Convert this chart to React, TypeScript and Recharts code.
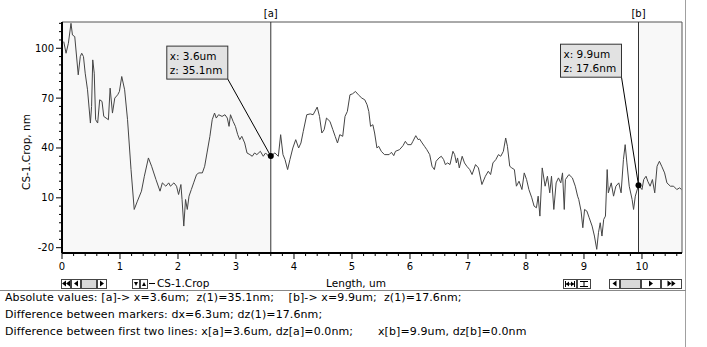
import React from 'react';
import { ComposedChart, Line, XAxis, YAxis, ReferenceArea, ReferenceLine, ReferenceDot } from 'recharts';

// profile: length (um) / height (nm)
const lengthUm = [
  0.03, 0.07, 0.11, 0.155, 0.18, 0.22, 0.28, 0.315, 0.34, 0.37, 0.4, 0.44, 0.49, 0.51, 0.53, 0.556, 0.58, 0.615,
  0.65, 0.69, 0.72, 0.76, 0.8, 0.83, 0.87, 0.91, 0.96, 0.99, 1.03, 1.08, 1.13, 1.19, 1.245, 1.3, 1.37, 1.42,
  1.49, 1.545, 1.62, 1.69, 1.73, 1.79, 1.84, 1.87, 1.93, 1.975, 2.01, 2.05, 2.07, 2.1, 2.13, 2.16, 2.19, 2.23,
  2.27, 2.32, 2.36, 2.42, 2.46, 2.5, 2.55, 2.59, 2.63, 2.66, 2.7, 2.76, 2.81, 2.85, 2.88, 2.905, 2.95, 2.99,
  3.03, 3.065, 3.1, 3.15, 3.19, 3.24, 3.28, 3.32, 3.36, 3.42, 3.47, 3.51, 3.565, 3.6, 3.67, 3.73, 3.77, 3.81,
  3.845, 3.89, 3.93, 3.98, 4.03, 4.08, 4.12, 4.16, 4.22, 4.28, 4.33, 4.4, 4.44, 4.48, 4.52, 4.56, 4.62, 4.67,
  4.71, 4.75, 4.79, 4.84, 4.88, 4.92, 4.965, 5.01, 5.06, 5.11, 5.17, 5.22, 5.26, 5.29, 5.32, 5.36, 5.39, 5.43,
  5.46, 5.505, 5.56, 5.64, 5.68, 5.72, 5.75, 5.82, 5.88, 5.92, 5.96, 6.02, 6.05, 6.1, 6.14, 6.165, 6.21, 6.25,
  6.29, 6.34, 6.38, 6.42, 6.45, 6.5, 6.54, 6.58, 6.61, 6.65, 6.69, 6.74, 6.77, 6.8, 6.82, 6.85, 6.9, 6.94,
  6.98, 7.03, 7.07, 7.13, 7.18, 7.24, 7.3, 7.35, 7.39, 7.43, 7.48, 7.525, 7.565, 7.61, 7.65, 7.68, 7.72, 7.755,
  7.8, 7.835, 7.88, 7.93, 7.97, 8.01, 8.05, 8.1, 8.14, 8.18, 8.21, 8.24, 8.28, 8.33, 8.37, 8.41, 8.44, 8.48,
  8.52, 8.56, 8.6, 8.63, 8.66, 8.68, 8.74, 8.8, 8.85, 8.89, 8.91, 8.95, 8.98, 9.01, 9.05, 9.09, 9.14, 9.18,
  9.22, 9.25, 9.28, 9.31, 9.34, 9.37, 9.4, 9.42, 9.47, 9.51, 9.55, 9.6, 9.64, 9.68, 9.71, 9.74, 9.78, 9.83,
  9.855, 9.885, 9.94, 10.0, 10.03, 10.07, 10.1, 10.14, 10.18, 10.22, 10.26, 10.3, 10.34, 10.39, 10.43, 10.49,
  10.545, 10.6, 10.65, 10.68,
];
const heightNm = [
  104, 97, 103, 115, 108, 107, 84, 95, 97, 95, 85, 75, 55, 65, 93, 85, 57, 55,
  69, 68, 59, 58, 57, 76, 61, 70, 72, 74, 83, 75, 57, 27, 3, 8, 14, 23,
  34, 29, 21, 14, 19, 17, 19, 17, 19, 17, 12, 18, 9, -7, 9, 3, 11, 15,
  19, 24, 25, 25, 29, 37, 47, 57, 61, 58, 60, 59, 60, 58, 53, 60, 56, 53,
  48, 45, 47, 43, 37, 36, 35, 37, 36, 38, 35, 37, 35, 35.1, 37, 35, 48, 36,
  33, 27, 33, 40, 45, 40, 43, 50, 60, 60.5, 60, 64.6, 59, 49, 51, 58, 56, 51,
  47, 43, 48, 47, 59, 62, 72, 72.6, 74, 72, 70, 69, 66, 62, 53, 54, 49, 40,
  41, 38, 36, 36, 37.4, 35.4, 38, 39, 41.4, 44, 42, 42, 44, 47.4, 45, 45.4, 43, 41,
  39, 36, 29, 27, 32, 34, 35, 33, 30, 31, 30, 38, 36, 31, 34, 28, 35, 31,
  29, 27, 24, 30, 28, 18, 23, 26, 24, 31, 33, 36, 35, 38, 46, 41, 29, 28,
  27, 17, 20, 15, 25, 21, 15, 10, 5, 4, 11, -1, 28, 17, 23, 13, 23, 3,
  19, 22, 19, 25, 3, 21, 24, 22, 17, 11, 9, 2, -8, 3, 2, -2, -7, -13,
  -21, -11, -5, -13, -3, -1, 27, 13, 19, 11, 17, 19, 13, 33, 42, 31, 17, 9,
  3, 11, 17.6, 15, 21, 23, 20, 17, 21, 13, 29, 32, 29, 25, 19, 17,
  17, 15, 16, 15,
];

const xMajorTicks = [0, 1, 2, 3, 4, 5, 6, 7, 8, 9, 10];
const yMajorTicks = [-20, 10, 40, 70, 100];
const xDomain = [0, 10.69];
const yDomain = [-23.2, 115.8];

const markerA = { name: '[a]', x: 3.6, z: 35.1, xText: 'x: 3.6um', zText: 'z: 35.1nm' };
const markerB = { name: '[b]', x: 9.94, z: 17.6, xText: 'x: 9.9um', zText: 'z: 17.6nm' };

const infoLines = [
  'Absolute values: [a]-> x=3.6um;  z(1)=35.1nm;    [b]-> x=9.9um;  z(1)=17.6nm;',
  'Difference between markers: dx=6.3um; dz(1)=17.6nm;',
  'Difference between first two lines: x[a]=3.6um, dz[a]=0.0nm;',
];
const infoLine3Tail = 'x[b]=9.9um, dz[b]=0.0nm';

const profile = lengthUm.map((x, i) => ({ x, z: heightNm[i] }));

const xTicks: number[] = [];
for (let v = 0; v <= 10.6 + 1e-6; v += 0.2) xTicks.push(Math.round(v * 10) / 10);
const yTicks: number[] = [];
for (let v = -20; v <= 115; v += 5) yTicks.push(v);

const FONT = '"DejaVu Sans", Verdana, sans-serif';

const XTick = (props: any) => {
  const { x, y, payload } = props;
  const major = xMajorTicks.includes(payload.value);
  return (
    <g>
      <line x1={x} y1={y} x2={x} y2={y + (major ? 6 : 3)} stroke="#000" />
      {major && (
        <text x={x} y={y + 17} textAnchor="middle" fontSize={10} fontFamily={FONT} fill="#000">
          {payload.value}
        </text>
      )}
    </g>
  );
};

const YTick = (props: any) => {
  const { x, y, payload } = props;
  const major = yMajorTicks.includes(payload.value);
  return (
    <g>
      <line x1={x} y1={y} x2={x - (major ? 6 : 3)} y2={y} stroke="#000" />
      {major && (
        <text x={x - 8} y={y + 3.5} textAnchor="end" fontSize={10} fontFamily={FONT} fill="#000">
          {payload.value}
        </text>
      )}
    </g>
  );
};

const callout = (m: typeof markerA, dx: number, dy: number) => (props: any) => {
  const { cx, cy } = props;
  const bx = cx + dx;
  const by = cy + dy;
  return (
    <g>
      <line x1={bx + 61} y1={by + 33} x2={cx} y2={cy} stroke="#000" />
      <rect x={bx} y={by} width={61} height={33} fill="#e2e2e2" stroke="#333" />
      <text x={bx + 3} y={by + 14} fontSize={10.5} fontFamily={FONT} fill="#000">{m.xText}</text>
      <text x={bx + 3} y={by + 28} fontSize={10.5} fontFamily={FONT} fill="#000">{m.zText}</text>
      <circle cx={cx} cy={cy} r={3} fill="#000" />
    </g>
  );
};

const Btn = ({ x, w, kind }: { x: number; w: number; kind: string }) => {
  const y = 279;
  const h = 9;
  const c = x + w / 2;
  const m = y + h / 2;
  const tri = (tx: number, dir: number) =>
    `${tx + dir * 2},${m - 3} ${tx + dir * 2},${m + 3} ${tx - dir * 2},${m}`;
  return (
    <g>
      <rect x={x + 0.5} y={y + 0.5} width={w - 1} height={h} fill={kind === 'track' ? '#d9d9d9' : '#fff'} stroke="#444" />
      {kind === 'left' && <polygon points={tri(c, 1)} fill="#000" />}
      {kind === 'right' && <polygon points={tri(c, -1)} fill="#000" />}
      {kind === 'first' && (
        <>
          <polygon points={tri(c - 2, 1)} fill="#000" />
          <polygon points={tri(c + 2, 1)} fill="#000" />
        </>
      )}
      {kind === 'last' && (
        <>
          <polygon points={tri(c - 2, -1)} fill="#000" />
          <polygon points={tri(c + 2, -1)} fill="#000" />
        </>
      )}
      {kind === 'hz' && (
        <>
          <line x1={x + 2.5} y1={y + 2} x2={x + 2.5} y2={y + h - 1} stroke="#000" />
          <line x1={x + w - 2.5} y1={y + 2} x2={x + w - 2.5} y2={y + h - 1} stroke="#000" />
          <line x1={x + 3} y1={m + 0.5} x2={x + w - 3} y2={m + 0.5} stroke="#000" />
          <polygon points={`${x + 3},${m + 0.5} ${x + 6},${m - 2} ${x + 6},${m + 3}`} fill="#000" />
          <polygon points={`${x + w - 3},${m + 0.5} ${x + w - 6},${m - 2} ${x + w - 6},${m + 3}`} fill="#000" />
        </>
      )}
      {kind === 'vt' && (
        <>
          <line x1={x + 3} y1={y + 2.5} x2={x + w - 3} y2={y + 2.5} stroke="#000" />
          <line x1={x + 3} y1={y + h - 1.5} x2={x + w - 3} y2={y + h - 1.5} stroke="#000" />
          <line x1={c} y1={y + 2} x2={c} y2={y + h - 1} stroke="#000" />
        </>
      )}
    </g>
  );
};

export default function App() {
  return (
    <div style={{ position: 'absolute', left: 0, top: 0, width: 707, height: 347, background: '#fff', overflow: 'hidden' }}>
      <ComposedChart width={707} height={347} data={profile} margin={{ top: 22, right: 25, bottom: 60, left: 2 }}>
        <XAxis
          dataKey="x"
          type="number"
          domain={xDomain}
          ticks={xTicks}
          interval={0}
          allowDataOverflow
          height={34}
          tickSize={0}
          tickMargin={0}
          tick={<XTick />}
          axisLine={{ stroke: '#000', strokeWidth: 2 }}
          label={{ value: 'Length, um', position: 'insideBottom', offset: 0, dx: -16, fontSize: 10.5, fontFamily: FONT, fill: '#000' }}
        />
        <YAxis
          type="number"
          domain={yDomain}
          ticks={yTicks}
          interval={0}
          allowDataOverflow
          width={60}
          tickSize={0}
          tickMargin={0}
          tick={<YTick />}
          axisLine={{ stroke: '#000', strokeWidth: 2 }}
          label={() => (
            <text x={30} y={152} transform="rotate(-90 30 152)" textAnchor="middle" fontSize={10.5} fontFamily={FONT} fill="#000">
              CS-1.Crop, nm
            </text>
          )}
        />
        <ReferenceArea x1={xDomain[0]} x2={markerA.x} fill="#f8f8f8" fillOpacity={1} stroke="none" />
        <ReferenceArea x1={markerB.x} x2={xDomain[1]} fill="#f8f8f8" fillOpacity={1} stroke="none" />
        <ReferenceArea x1={xDomain[0]} x2={xDomain[1]} y1={yDomain[0]} y2={yDomain[1]} fill="none" stroke="#555" />
        <Line type="linear" dataKey="z" stroke="#454545" strokeWidth={1} dot={false} isAnimationActive={false} />
        <ReferenceLine x={markerA.x} stroke="#333" label={{ value: markerA.name, position: 'top', fontSize: 10, fontFamily: FONT, fill: '#000' }} />
        <ReferenceLine x={markerB.x} stroke="#333" label={{ value: markerB.name, position: 'top', fontSize: 10, fontFamily: FONT, fill: '#000' }} />
        <ReferenceDot x={markerA.x} y={markerA.z} shape={callout(markerA, -104, -110)} />
        <ReferenceDot x={markerB.x} y={markerB.z} shape={callout(markerB, -78, -141)} />
      </ComposedChart>
      <svg width={707} height={347} style={{ position: 'absolute', left: 0, top: 0, pointerEvents: 'none' }}>
        <line x1={685.5} y1={0} x2={685.5} y2={347} stroke="#a0a0a0" />
        <line x1={0} y1={290.5} x2={686} y2={290.5} stroke="#888" />
        <Btn x={61} w={10} kind="first" />
        <Btn x={71} w={10} kind="left" />
        <Btn x={81} w={16} kind="track" />
        <Btn x={97} w={10} kind="right" />
        <Btn x={132} w={8} kind="legend" />
        <polygon points="134,282 138,282 136,286" fill="#000" />
        <Btn x={140} w={8} kind="legend" />
        <polygon points="142,286 146,286 144,282" fill="#000" />
        <line x1={149} y1={283.5} x2={155} y2={283.5} stroke="#000" />
        <text x={157} y={287} fontSize={10.5} fontFamily={FONT} fill="#000">CS-1.Crop</text>
        <Btn x={563} w={14} kind="hz" />
        <Btn x={577} w={14} kind="vt" />
        <Btn x={609} w={11} kind="left" />
        <Btn x={620} w={21} kind="track" />
        <Btn x={641} w={20} kind="right" />
        <Btn x={661} w={21} kind="last" />
        {infoLines.map((t, i) => (
          <text key={i} x={5} y={301 + i * 17} fontSize={11} letterSpacing={0.1} fontFamily={FONT} fill="#000" style={{ whiteSpace: 'pre' }}>
            {t}
          </text>
        ))}
        <text x={378} y={335} fontSize={11} letterSpacing={0.1} fontFamily={FONT} fill="#000">
          {infoLine3Tail}
        </text>
      </svg>
    </div>
  );
}
